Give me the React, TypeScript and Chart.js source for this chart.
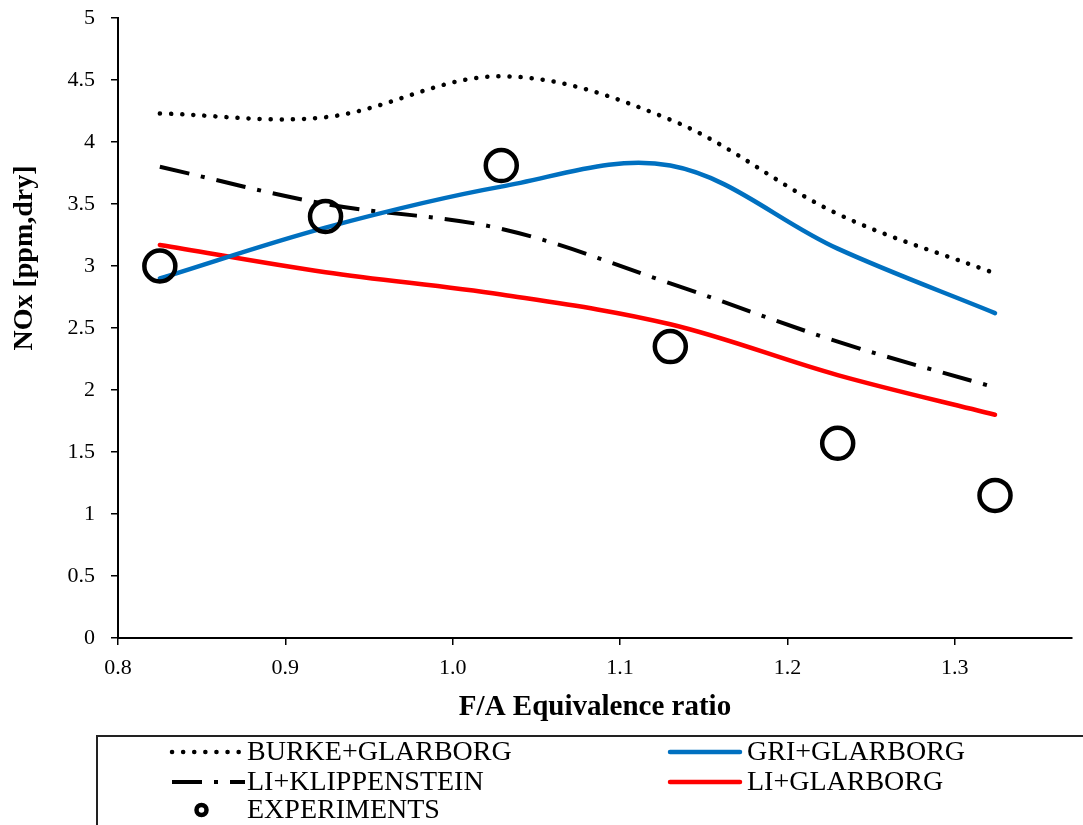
import React, { useEffect, useRef } from "react";
import { Chart, registerables } from "chart.js";

Chart.register(...registerables);

// ---- data ----
const PHI = [0.825, 0.924, 1.029, 1.13, 1.23, 1.324];
const BURKE_GLARBORG = [4.23, 4.2, 4.53, 4.18, 3.42, 2.94];
const GRI_GLARBORG = [2.9, 3.31, 3.64, 3.81, 3.14, 2.62];
const LI_KLIPPENSTEIN = [3.8, 3.5, 3.3, 2.86, 2.39, 2.02];
const LI_GLARBORG = [3.17, 2.95, 2.77, 2.53, 2.12, 1.8];
const EXPERIMENTS = [3.0, 3.4, 3.81, 2.35, 1.57, 1.15];

const X_TICKS = [0.8, 0.9, 1.0, 1.1, 1.2, 1.3];
const Y_TICKS = [0, 0.5, 1, 1.5, 2, 2.5, 3, 3.5, 4, 4.5, 5];

const SERIES_LABELS = [
  "BURKE+GLARBORG",
  "GRI+GLARBORG",
  "LI+KLIPPENSTEIN",
  "LI+GLARBORG",
  "EXPERIMENTS",
];

const X_TITLE = "F/A Equivalence ratio";
const Y_TITLE = "NOx [ppm,dry]";

const FONT = "'Liberation Serif', 'Times New Roman', serif";

const toPoints = (ys: number[]) => PHI.map((x, i) => ({ x, y: ys[i] }));

const boxLegendPlugin = {
  id: "boxLegend",
  afterDraw(chart: any) {
    const ctx: CanvasRenderingContext2D = chart.ctx;
    ctx.save();
    // y-axis title
    ctx.save();
    ctx.translate(25, 258);
    ctx.rotate(-Math.PI / 2);
    ctx.font = `bold 28px ${FONT}`;
    ctx.fillStyle = "#000";
    ctx.textAlign = "center";
    ctx.textBaseline = "middle";
    ctx.fillText(Y_TITLE, 0, 0);
    ctx.restore();

    // legend frame
    ctx.strokeStyle = "#222";
    ctx.lineWidth = 2;
    ctx.setLineDash([]);
    ctx.strokeRect(97, 736, 1200, 200);

    const slots = [
      [172, 245, 247, 752],
      [670, 740, 747, 752],
      [172, 245, 247, 782],
      [670, 740, 747, 782],
      [172, 245, 247, 810],
    ];
    chart.data.datasets.forEach((ds: any, i: number) => {
      const [x0, x1, tx, y] = slots[i];
      if (ds.showLine) {
        ctx.beginPath();
        ctx.setLineDash(ds.borderDash || []);
        ctx.lineCap = ds.borderCapStyle || "butt";
        ctx.lineWidth = ds.borderWidth;
        ctx.strokeStyle = ds.borderColor;
        ctx.moveTo(x0, y);
        ctx.lineTo(x1, y);
        ctx.stroke();
      } else {
        ctx.beginPath();
        ctx.setLineDash([]);
        ctx.lineWidth = 4.5;
        ctx.strokeStyle = ds.borderColor;
        ctx.arc(201.5, y, 5, 0, Math.PI * 2);
        ctx.stroke();
      }
      ctx.setLineDash([]);
      ctx.font = `28px ${FONT}`;
      ctx.fillStyle = "#000";
      ctx.textAlign = "left";
      ctx.textBaseline = "middle";
      ctx.fillText(ds.label, tx, y + 1);
    });
    ctx.restore();
  },
};

export default function App() {
  const ref = useRef<HTMLCanvasElement | null>(null);

  useEffect(() => {
    if (!ref.current) return;
    const axisCommon = {
      grid: {
        drawOnChartArea: false,
        drawTicks: true,
        tickLength: 7,
        color: "#000",
        lineWidth: 1.5,
      },
      border: { color: "#000", width: 2 },
    };
    const chart = new Chart(ref.current, {
      type: "scatter",
      data: {
        datasets: [
          {
            label: SERIES_LABELS[0],
            data: toPoints(BURKE_GLARBORG),
            showLine: true,
            borderColor: "#000",
            borderWidth: 4.5,
            borderDash: [0.1, 11],
            borderCapStyle: "round",
            tension: 0.35,
            pointRadius: 0,
            order: 1,
          },
          {
            label: SERIES_LABELS[1],
            data: toPoints(GRI_GLARBORG),
            showLine: true,
            borderColor: "#0070C0",
            borderWidth: 4.5,
            borderCapStyle: "round",
            tension: 0.35,
            pointRadius: 0,
            order: 1,
          },
          {
            label: SERIES_LABELS[2],
            data: toPoints(LI_KLIPPENSTEIN),
            showLine: true,
            borderColor: "#000",
            borderWidth: 4,
            borderDash: [30, 12, 4, 12],
            borderCapStyle: "butt",
            tension: 0.35,
            pointRadius: 0,
            order: 1,
          },
          {
            label: SERIES_LABELS[3],
            data: toPoints(LI_GLARBORG),
            showLine: true,
            borderColor: "#FF0000",
            borderWidth: 4.5,
            borderCapStyle: "round",
            tension: 0.35,
            pointRadius: 0,
            order: 1,
          },
          {
            label: SERIES_LABELS[4],
            data: toPoints(EXPERIMENTS),
            showLine: false,
            borderColor: "#000",
            backgroundColor: "rgba(0,0,0,0)",
            borderWidth: 4.5,
            pointRadius: 15.5,
            pointStyle: "circle",
            order: 0,
          },
        ],
      },
      options: {
        responsive: false,
        animation: false,
        devicePixelRatio: 1,
        layout: {
          autoPadding: false,
          padding: { top: 18, right: 11, bottom: 100, left: 0 },
        },
        plugins: {
          legend: { display: false },
          tooltip: { enabled: false },
        },
        scales: {
          x: {
            type: "linear",
            min: 0.8,
            max: 1.37,
            afterBuildTicks: (s: any) => {
              s.ticks = X_TICKS.map((v) => ({ value: v }));
            },
            afterFit: (s: any) => {
              s.height = 87;
              s.paddingLeft = 0;
              s.paddingRight = 0;
            },
            ticks: {
              font: { family: FONT, size: 22 },
              color: "#000",
              padding: 10,
              maxRotation: 0,
              autoSkip: false,
              callback: (v: any) => Number(v).toFixed(1),
            },
            title: {
              display: true,
              text: X_TITLE,
              font: { family: FONT, size: 29, weight: "bold" },
              color: "#000",
              padding: 0,
            },
            ...axisCommon,
          },
          y: {
            type: "linear",
            min: 0,
            max: 5,
            afterBuildTicks: (s: any) => {
              s.ticks = Y_TICKS.map((v) => ({ value: v }));
            },
            afterFit: (s: any) => {
              s.width = 118;
              s.paddingTop = 0;
              s.paddingBottom = 0;
            },
            ticks: {
              font: { family: FONT, size: 22 },
              color: "#000",
              padding: 16,
              autoSkip: false,
              callback: (v: any) => String(v),
            },
            ...axisCommon,
          },
        },
      } as any,
      plugins: [boxLegendPlugin],
    });
    return () => chart.destroy();
  }, []);

  return (
    <div
      style={{
        position: "absolute",
        left: 0,
        top: 0,
        width: 1083,
        height: 825,
        background: "#fff",
        overflow: "hidden",
      }}
    >
      <canvas ref={ref} width={1083} height={825} style={{ display: "block" }} />
    </div>
  );
}
